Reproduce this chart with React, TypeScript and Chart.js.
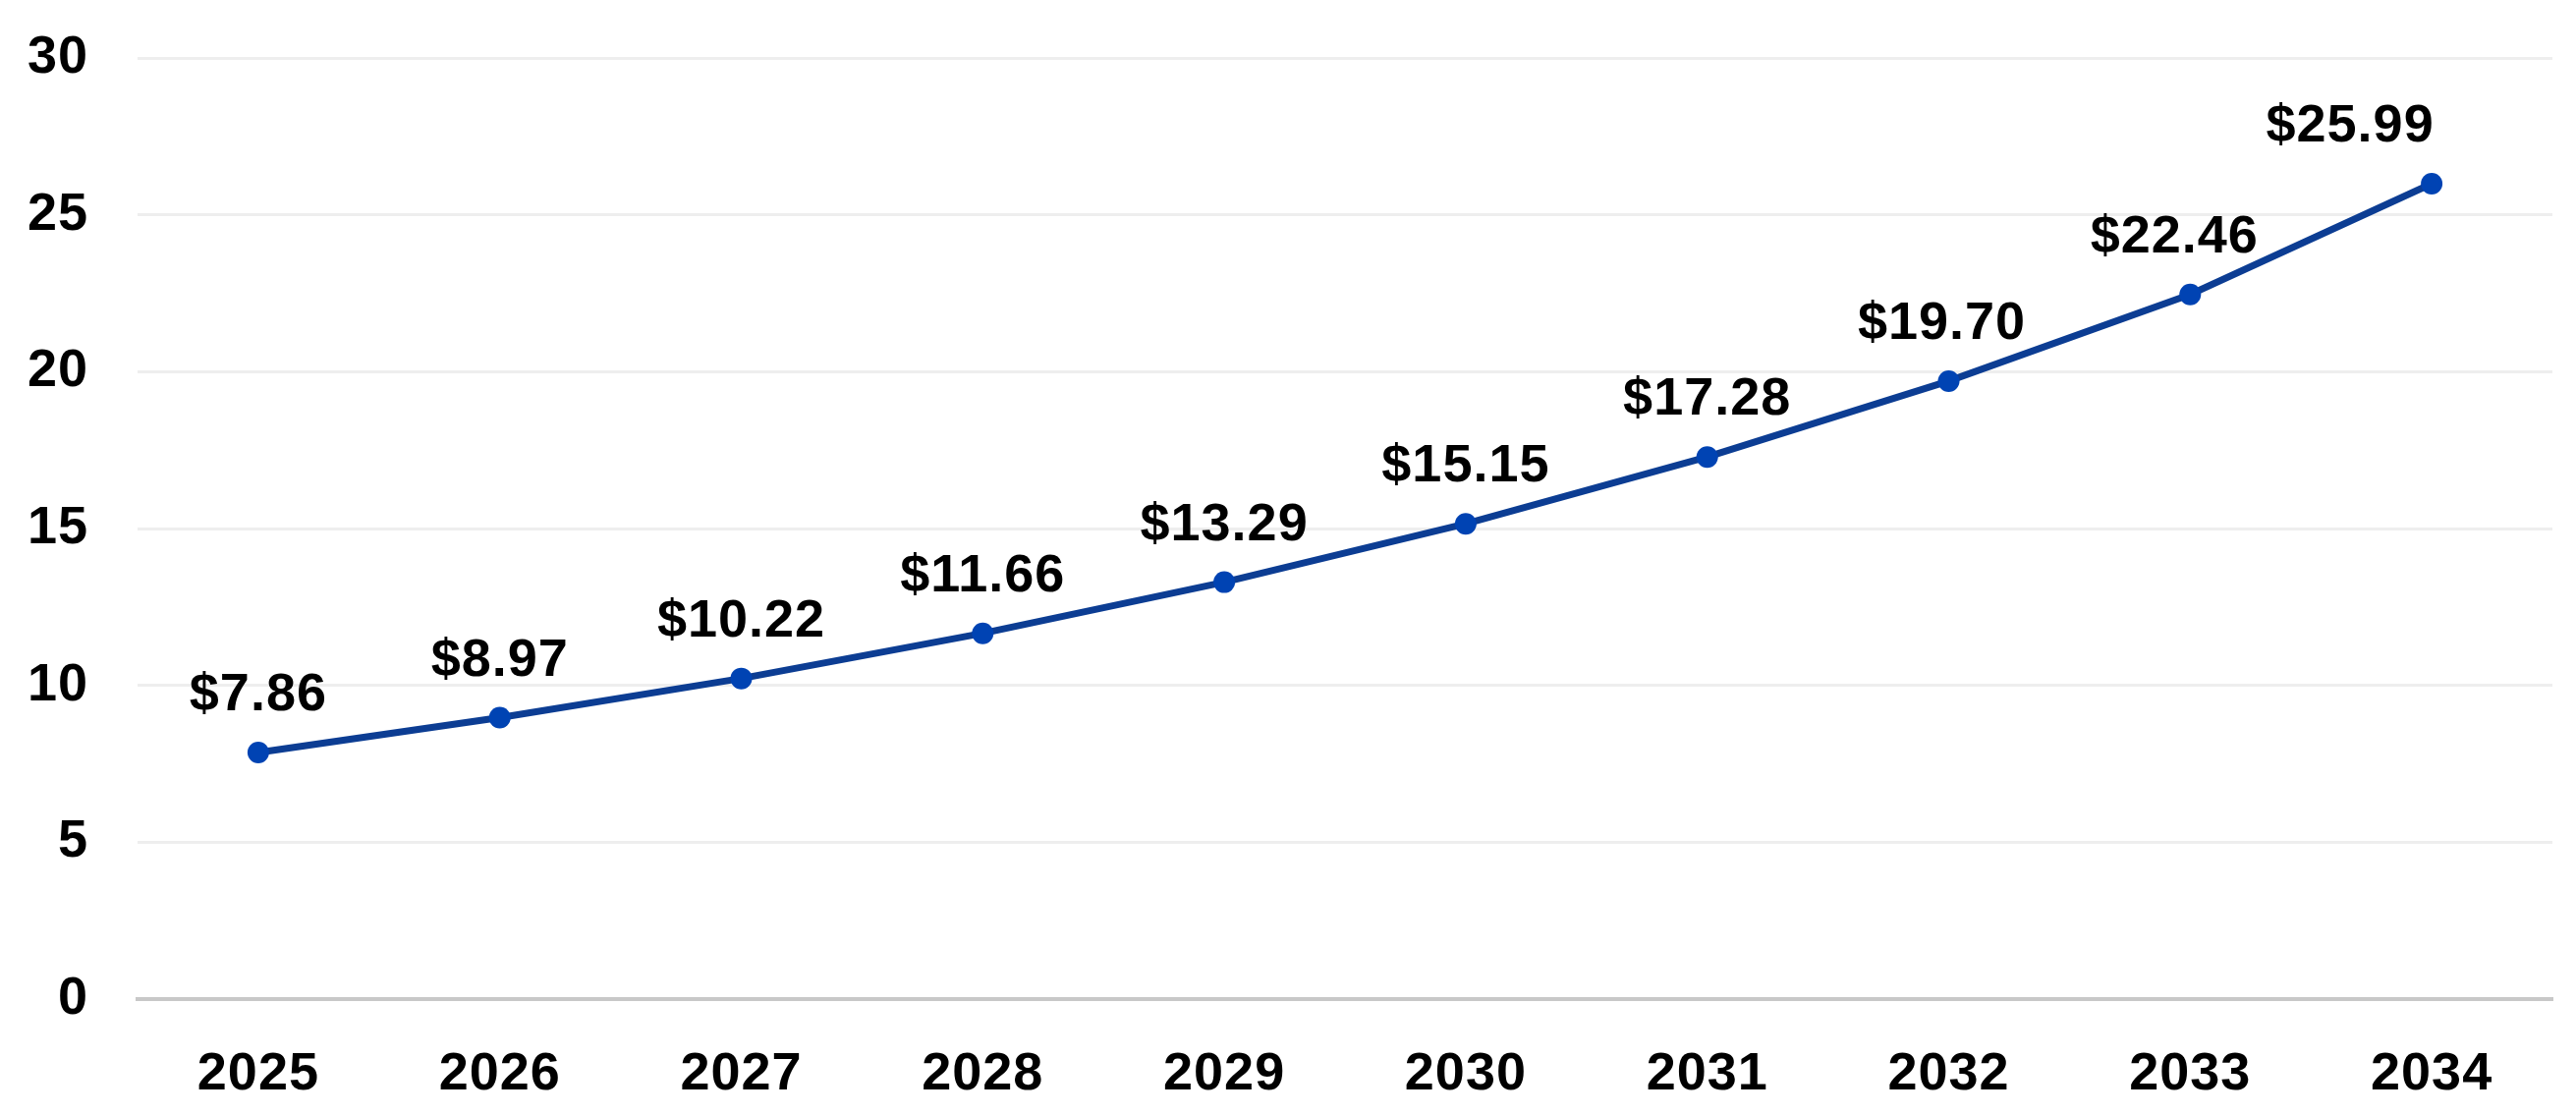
import React, { useEffect, useRef } from 'react';
import { Chart, registerables } from 'chart.js';

Chart.register(...registerables);

// ---- data ----
const years = ['2025', '2026', '2027', '2028', '2029', '2030', '2031', '2032', '2033', '2034'];
const marketSize = [7.86, 8.97, 10.22, 11.66, 13.29, 15.15, 17.28, 19.7, 22.46, 25.99];
const valueLabels = ['$7.86', '$8.97', '$10.22', '$11.66', '$13.29', '$15.15', '$17.28', '$19.70', '$22.46', '$25.99'];
const yMin = 0;
const yMax = 30;
const yStep = 5;

// ---- style ----
const W = 2622;
const H = 1135;
const FONT_FAMILY = '"Liberation Sans", Arial, Helvetica, sans-serif';
const FONT_SIZE = 54;
const LETTER_SPACING = '1px';
const labelNudgeX = [0, 0, 0, 0, 0, 0, 0, -7, -16, -83];
const labelLift = 43;

const spacingPlugin = {
  id: 'spacing',
  beforeUpdate(chart: any) {
    chart.ctx.letterSpacing = LETTER_SPACING;
  },
  beforeDraw(chart: any) {
    chart.ctx.letterSpacing = LETTER_SPACING;
  },
};

const valueLabelPlugin = {
  id: 'valueLabels',
  afterDatasetsDraw(chart: any) {
    const ctx = chart.ctx;
    const meta = chart.getDatasetMeta(0);
    ctx.save();
    ctx.letterSpacing = LETTER_SPACING;
    ctx.font = `bold ${FONT_SIZE}px ${FONT_FAMILY}`;
    ctx.fillStyle = '#000000';
    ctx.textAlign = 'center';
    ctx.textBaseline = 'alphabetic';
    meta.data.forEach((pt: any, i: number) => {
      ctx.fillText(valueLabels[i], pt.x + labelNudgeX[i], pt.y - labelLift);
    });
    ctx.restore();
  },
};

export default function App() {
  const canvasRef = useRef<HTMLCanvasElement | null>(null);

  useEffect(() => {
    const canvas = canvasRef.current;
    if (!canvas) return;
    const chart = new Chart(canvas, {
      type: 'line',
      data: {
        labels: years,
        datasets: [
          {
            data: marketSize,
            borderColor: '#0c3d93',
            borderWidth: 7,
            pointRadius: 11,
            pointHoverRadius: 11,
            pointBackgroundColor: '#0043b3',
            pointBorderColor: '#0043b3',
            pointBorderWidth: 0,
            tension: 0,
            fill: false,
          },
        ],
      },
      options: {
        responsive: false,
        animation: false,
        devicePixelRatio: 1,
        layout: { padding: { top: 59, right: 24, bottom: 0, left: 0 } },
        plugins: {
          legend: { display: false },
          tooltip: { enabled: false },
        },
        scales: {
          x: {
            type: 'category',
            offset: true,
            grid: { display: false, drawTicks: false },
            border: { display: true, color: '#c8c8c8', width: 4 },
            ticks: {
              color: '#000000',
              padding: 45,
              font: { family: FONT_FAMILY, size: FONT_SIZE, weight: 'bold', lineHeight: 1.2 },
            },
            afterFit: (s: any) => {
              s.height = 118;
              s.paddingLeft = 0;
              s.paddingRight = 0;
            },
          },
          y: {
            min: yMin,
            max: yMax,
            grid: { color: '#eeeeee', lineWidth: 3, drawTicks: false },
            border: { display: false },
            ticks: {
              stepSize: yStep,
              color: '#000000',
              padding: 50,
              font: { family: FONT_FAMILY, size: FONT_SIZE, weight: 'bold', lineHeight: 1.2 },
            },
            afterFit: (s: any) => {
              s.width = 140;
              s.paddingTop = 0;
              s.paddingBottom = 0;
            },
          },
        },
      },
      plugins: [spacingPlugin, valueLabelPlugin],
    } as any);
    return () => chart.destroy();
  }, []);

  return (
    <div style={{ position: 'absolute', left: 0, top: 0, width: W, height: H, background: '#ffffff' }}>
      <canvas ref={canvasRef} width={W} height={H} style={{ width: W, height: H, display: 'block' }} />
    </div>
  );
}
